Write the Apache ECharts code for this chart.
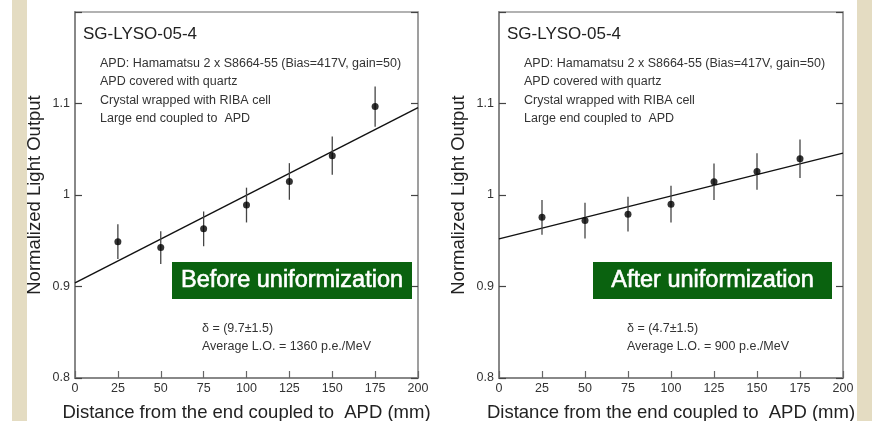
<!DOCTYPE html>
<html>
<head>
<meta charset="utf-8">
<script src="https://cdn.jsdelivr.net/npm/echarts@6/dist/echarts.min.js"></script>
<style>
html,body{margin:0;padding:0;background:#fff;overflow:hidden;}
#c{width:872px;height:421px;}
</style>
</head>
<body>
<div id="c"></div>
<script>
// ---- data ----
const xTicks = [0, 25, 50, 75, 100, 125, 150, 175, 200];
const yTicks = [0.8, 0.9, 1.0, 1.1];
const distances = [25, 50, 75, 100, 125, 150, 175];
const beforeValues = [0.949, 0.9425, 0.963, 0.989, 1.0148, 1.043, 1.0966];
const beforeErrors = [0.019, 0.018, 0.019, 0.019, 0.020, 0.021, 0.022];
const beforeFitX = [0, 200];
const beforeFitY = [0.904, 1.0955];
const afterValues = [0.9756, 0.972, 0.979, 0.990, 1.0145, 1.0257, 1.0396];
const afterErrors = [0.019, 0.0196, 0.019, 0.020, 0.020, 0.020, 0.021];
const afterFitX = [0, 200];
const afterFitY = [0.952, 1.0458];
const titleText = 'SG-LYSO-05-4';
const infoLines = ['APD: Hamamatsu 2 x S8664-55 (Bias=417V, gain=50)', 'APD covered with quartz', 'Crystal wrapped with RIBA cell', 'Large end coupled to  APD'];
const beforeStats = ['\u03b4 = (9.7\u00b11.5)', 'Average L.O. = 1360 p.e./MeV'];
const afterStats = ['\u03b4 = (4.7\u00b11.5)', 'Average L.O. = 900 p.e./MeV'];
const beforeLabel = 'Before uniformization';
const afterLabel = 'After uniformization';
const xName = 'Distance from the end coupled to  APD (mm)';
const yName = 'Normalized Light Output';

// ---- chart ----
const FONT = '"Liberation Sans", Arial, Helvetica, sans-serif';
const chart = echarts.init(document.getElementById('c'), null, {renderer: 'canvas'});

function xAxisDef(gi) {
  return {
    type: 'value', gridIndex: gi, min: 0, max: 200, interval: 25,
    name: xName, nameLocation: 'middle', nameGap: 25,
    nameTextStyle: {fontFamily: FONT, fontSize: 18.5, color: '#222', verticalAlign: 'top'},
    axisLine: {show: true, onZero: false, lineStyle: {color: '#888', width: 2}},
    axisTick: {show: true, inside: true, length: 7, lineStyle: {color: '#666', width: 1.2}},
    axisLabel: {fontFamily: FONT, fontSize: 12.5, color: '#333', margin: 4,
      formatter: v => xTicks.indexOf(v) >= 0 ? String(v) : ''},
    splitLine: {show: false}
  };
}
function yAxisDef(gi) {
  return {
    type: 'value', gridIndex: gi, min: 0.8, max: 1.2, interval: 0.1, position: 'left',
    name: yName, nameLocation: 'middle', nameGap: 31,
    nameTextStyle: {fontFamily: FONT, fontSize: 18.5, color: '#222'},
    axisLine: {show: true, onZero: false, lineStyle: {color: '#888', width: 2}},
    axisTick: {show: true, inside: true, length: 7, lineStyle: {color: '#444', width: 1.2}},
    axisLabel: {fontFamily: FONT, fontSize: 12.5, color: '#333', margin: 5,
      formatter: v => {
        const r = Math.round(v * 10) / 10;
        if (!yTicks.some(t => Math.abs(t - r) < 1e-6)) return '';
        return r === 1 ? '1' : r.toFixed(1);
      }},
    splitLine: {show: false}
  };
}
function yAxisRight(gi) {
  return {
    type: 'value', gridIndex: gi, min: 0.8, max: 1.2, interval: 0.1, position: 'right',
    axisLine: {show: true, onZero: false, lineStyle: {color: '#999', width: 1.5}},
    axisTick: {show: true, inside: true, length: 7, lineStyle: {color: '#444', width: 1.2}},
    axisLabel: {show: false},
    splitLine: {show: false}
  };
}

function errorSeries(xi, yi, vals, errs) {
  return {
    type: 'custom', xAxisIndex: xi, yAxisIndex: yi,
    data: distances.map((d, i) => [d, vals[i], errs[i]]),
    renderItem: (params, api) => {
      const x = api.value(0), y = api.value(1), e = api.value(2);
      const p1 = api.coord([x, y - e]);
      const p2 = api.coord([x, y + e]);
      return {type: 'line', shape: {x1: p1[0], y1: p1[1], x2: p2[0], y2: p2[1]},
        style: {stroke: '#444', lineWidth: 1.3}};
    },
    z: 3, silent: true
  };
}
function pointSeries(xi, yi, vals) {
  return {type: 'scatter', xAxisIndex: xi, yAxisIndex: yi, symbol: 'circle', symbolSize: 7,
    itemStyle: {color: '#000'}, data: distances.map((d, i) => [d, vals[i]]), z: 4, silent: true};
}
function fitSeries(xi, yi, fx, fy) {
  return {type: 'line', xAxisIndex: xi, yAxisIndex: yi, showSymbol: false, symbol: 'none',
    lineStyle: {color: '#111', width: 1.4}, data: fx.map((x, i) => [x, fy[i]]), z: 2, silent: true};
}

function textEl(x, y, txt, size, color) {
  return {type: 'text', x: x, y: y, silent: true, z: 10,
    style: {text: txt, fontFamily: FONT, fontSize: size, fill: color || '#333',
      align: 'left', verticalAlign: 'middle'}};
}
function panelTexts(ox, boxX, boxW, label, stats, statX) {
  const els = [];
  els.push(textEl(ox + 8, 34.5, titleText, 17, '#222'));
  infoLines.forEach((t, i) => els.push(textEl(ox + 25, 63.5 + i * 18.5, t, 12.5, '#333')));
  stats.forEach((t, i) => els.push(textEl(statX, 328.5 + i * 18.5, t, 12.5, '#333')));
  els.push({type: 'rect', x: boxX, y: 262, z: 9, silent: true,
    shape: {x: 0, y: 0, width: boxW, height: 37}, style: {fill: '#0a620f'}});
  els.push({type: 'text', x: boxX + boxW / 2, y: 281, z: 10, silent: true,
    style: {text: label, fontFamily: FONT, fontSize: 23.5, fill: '#fff',
      stroke: '#fff', lineWidth: 0.6,
      align: 'center', verticalAlign: 'middle'}});
  return els;
}

const graphics = [
  {type: 'rect', x: 12, y: 0, z: -1, silent: true, shape: {x: 0, y: 0, width: 15, height: 421}, style: {fill: '#e4dcc2'}},
  {type: 'rect', x: 857, y: 0, z: -1, silent: true, shape: {x: 0, y: 0, width: 15, height: 421}, style: {fill: '#e4dcc2'}}
].concat(panelTexts(75, 172, 240, beforeLabel, beforeStats, 202))
 .concat(panelTexts(499, 593, 239, afterLabel, afterStats, 627));

chart.setOption({
  animation: false,
  backgroundColor: '#fff',
  grid: [
    {left: 75, right: 454, top: 12, bottom: 43, show: true, borderColor: '#999', borderWidth: 1.5,
     backgroundColor: 'transparent', outerBoundsMode: 'none', containLabel: false},
    {left: 499, right: 29, top: 12, bottom: 43, show: true, borderColor: '#999', borderWidth: 1.5,
     backgroundColor: 'transparent', outerBoundsMode: 'none', containLabel: false}
  ],
  xAxis: [xAxisDef(0), xAxisDef(1)],
  yAxis: [yAxisDef(0), yAxisRight(0), yAxisDef(1), yAxisRight(1)],
  series: [
    fitSeries(0, 0, beforeFitX, beforeFitY),
    errorSeries(0, 0, beforeValues, beforeErrors),
    pointSeries(0, 0, beforeValues),
    fitSeries(1, 2, afterFitX, afterFitY),
    errorSeries(1, 2, afterValues, afterErrors),
    pointSeries(1, 2, afterValues)
  ],
  graphic: graphics
});
</script>
</body>
</html>
